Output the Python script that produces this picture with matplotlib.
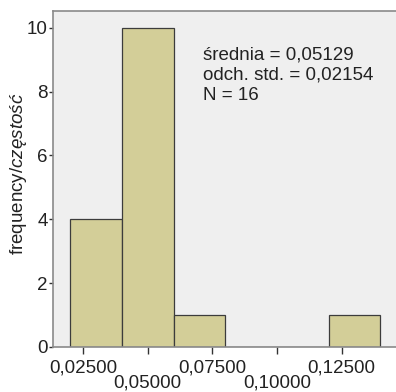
import numpy as np
import matplotlib
matplotlib.use("Agg")
import matplotlib.pyplot as plt

plt.rcParams['font.family'] = ['Liberation Sans', 'DejaVu Sans']
plt.rcParams['mathtext.fontset'] = 'custom'
plt.rcParams['mathtext.it'] = 'Liberation Sans:italic'
plt.rcParams['mathtext.rm'] = 'Liberation Sans'

# histogram data
bin_edges = [0.02, 0.04, 0.06, 0.08, 0.10, 0.12, 0.14]
counts = [4, 10, 1, 0, 0, 1]
xticks_top = [0.025, 0.075, 0.125]
xlabels_top = ['0,02500', '0,07500', '0,12500']
xticks_low = [0.05, 0.10]
xlabels_low = ['0,05000', '0,10000']
yticks = [0, 2, 4, 6, 8, 10]
stats_text = "średnia = 0,05129\nodch. std. = 0,02154\nN = 16"

BAR_COLOR = '#D3CE98'
EDGE_COLOR = '#3C3C3C'
BG_COLOR = '#EFEFEF'
SPINE_COLOR = '#8A8A8A'
TXT = '#222222'
FS = 13.5

fig = plt.figure(figsize=(3.96, 3.92), dpi=100)
ax = fig.add_axes([0.134, 0.115, 0.866, 0.857])
ax.set_facecolor(BG_COLOR)

edges = np.array(bin_edges)
ax.bar(edges[:-1], counts, width=np.diff(edges), align='edge',
       color=BAR_COLOR, edgecolor=EDGE_COLOR, linewidth=0.9, zorder=2)

ax.set_xlim(0.0134, 0.146)
ax.set_ylim(0, 10.53)

# staggered x labels: major row on top, minor row below
ax.set_xticks(xticks_top)
ax.set_xticklabels(xlabels_top)
ax.set_xticks(xticks_low, minor=True)
ax.set_xticklabels(xlabels_low, minor=True)
ax.tick_params(axis='x', which='major', length=5, width=1, color='#333333',
               labelsize=FS, pad=4, labelcolor=TXT)
ax.tick_params(axis='x', which='minor', length=5, width=1, color='#333333',
               labelsize=FS, pad=14.5, labelcolor=TXT)

ax.set_yticks(yticks)
ax.set_yticklabels([str(v) for v in yticks])
ax.tick_params(axis='y', length=3, width=1, color='#333333', labelsize=FS,
               pad=1, labelcolor=TXT)

ax.spines['right'].set_visible(False)
for side in ['left', 'bottom', 'top']:
    ax.spines[side].set_color(SPINE_COLOR)
    ax.spines[side].set_linewidth(1.2)

ax.set_ylabel(r'frequency/$\it{częstość}$', fontsize=13.5, color=TXT)
ax.yaxis.set_label_coords(-0.071, 0.515)

ax.text(0.438, 0.895, stats_text, transform=ax.transAxes, fontsize=FS,
        va='top', ha='left', color=TXT, linespacing=1.25)

fig.savefig('out.png', dpi=100)
